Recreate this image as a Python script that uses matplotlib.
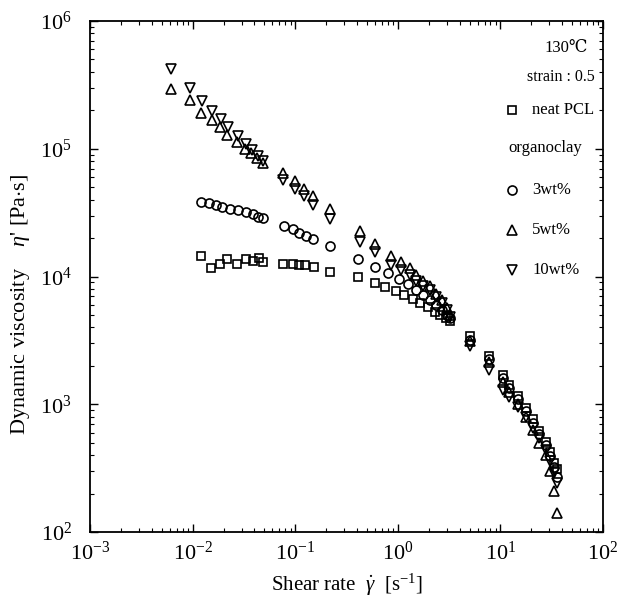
import matplotlib
matplotlib.use('Agg')
import matplotlib.pyplot as plt
from matplotlib.ticker import LogLocator, NullFormatter

plt.rcParams['font.family'] = ['Liberation Serif', 'DejaVu Serif']
plt.rcParams['mathtext.fontset'] = 'custom'
plt.rcParams['mathtext.rm'] = 'Liberation Serif'
plt.rcParams['mathtext.it'] = 'Liberation Serif:italic'
plt.rcParams['axes.unicode_minus'] = False

# ---- data ----
pcl_rate = [0.0122, 0.0150, 0.0183, 0.0218, 0.0268, 0.0330, 0.0385, 0.0445, 0.0485,
            0.0757, 0.0948, 0.110, 0.125, 0.152, 0.217,
            0.41, 0.60, 0.75, 0.95, 1.15, 1.4, 1.65, 1.95, 2.3, 2.6, 2.95, 3.22,
            5.1, 7.7, 10.5, 12.2, 14.7, 17.7, 20.6, 24.0, 27.8, 30.5, 33.0, 35.5]
pcl_eta = [14500, 11600, 12600, 13800, 12600, 13800, 13200, 14000, 12900,
           12600, 12600, 12400, 12300, 11900, 10900,
           9900, 8900, 8300, 7700, 7200, 6700, 6200, 5800, 5300, 5000, 4700, 4500,
           3400, 2400, 1700, 1420, 1160, 940, 760, 620, 510, 420, 350, 310]

clay3_rate = [0.0122, 0.0145, 0.0168, 0.0195, 0.0232, 0.0278, 0.0331, 0.0385, 0.0431, 0.0482,
              0.0774, 0.0948, 0.110, 0.128, 0.149, 0.217,
              0.41, 0.60, 0.81, 1.02, 1.25, 1.5, 1.76, 2.05, 2.38, 2.67, 2.99, 3.22,
              5.1, 7.7, 10.5, 12.2, 14.7, 17.7, 20.6, 24.0, 27.8, 30.5, 33.0, 35.5]
clay3_eta = [38200, 37300, 36200, 35200, 33900, 33000, 32000, 30700, 29400, 28600,
             24900, 23500, 22100, 20900, 19700, 17200,
             13600, 11900, 10600, 9600, 8700, 7900, 7200, 6600, 6000, 5500, 5000, 4700,
             3200, 2250, 1600, 1330, 1090, 880, 710, 580, 480, 390, 320, 270]

clay5_rate = [0.00622, 0.00942, 0.0122, 0.0153, 0.0185, 0.0216, 0.027, 0.0326, 0.037, 0.042, 0.048,
              0.0757, 0.0984, 0.123, 0.149, 0.217,
              0.43, 0.60, 0.85, 1.07, 1.30, 1.51, 1.76, 2.05, 2.38, 2.67, 2.99, 3.22,
              5.1, 7.7, 10.5, 12.2, 14.7, 17.7, 20.6, 24.0, 27.8, 30.5, 33.0, 35.5]
clay5_eta = [295000, 239000, 192000, 168000, 147000, 129000, 113000, 100000, 92000, 85000, 78000,
             65000, 55500, 48300, 43000, 33600,
             22800, 18000, 14600, 13000, 11600, 10300, 9200, 8400, 7300, 6500, 5700, 5000,
             3100, 2150, 1500, 1250, 1000, 800, 630, 500, 400, 300, 210, 140]

clay10_rate = [0.00622, 0.00942, 0.01245, 0.0156, 0.0188, 0.0219, 0.0274, 0.0331, 0.038, 0.043, 0.048,
               0.0757, 0.0984, 0.123, 0.149, 0.217,
               0.43, 0.60, 0.85, 1.07, 1.30, 1.51, 1.76, 2.05, 2.38, 2.67, 2.99, 3.22,
               5.1, 7.7, 10.5, 12.2, 14.7, 17.7, 20.6, 24.0, 27.8, 30.5, 33.0, 35.5]
clay10_eta = [422000, 299000, 236000, 198000, 171000, 147000, 127000, 109000, 97000, 88000, 80000,
              57100, 48300, 42400, 36600, 28100,
              18500, 15500, 12300, 11200, 10200, 9300, 8500, 7800, 6900, 6200, 5500, 4800,
              2850, 1850, 1300, 1150, 950, 800, 650, 540, 440, 360, 290, 240]

legend_labels = ['neat PCL', '3wt%', '5wt%', '10wt%']

fig = plt.figure(figsize=(6.2, 6.04), dpi=100)
ax = fig.add_axes([0.1452, 0.1192, 0.8274, 0.846])

mk = dict(linestyle='none', markerfacecolor='none', markeredgecolor='black', markeredgewidth=1.2)
ax.plot(pcl_rate, pcl_eta, marker='s', markersize=6, **mk)
ax.plot(clay3_rate, clay3_eta, marker='o', markersize=6.5, **mk)
ax.plot(clay5_rate, clay5_eta, marker='^', markersize=7, **mk)
ax.plot(clay10_rate, clay10_eta, marker='v', markersize=7, **mk)

ax.set_xscale('log')
ax.set_yscale('log')
ax.set_xlim(1e-3, 1e2)
ax.set_ylim(1e2, 1e6)
ax.xaxis.set_minor_locator(LogLocator(base=10, subs=range(2, 10), numticks=20))
ax.yaxis.set_minor_locator(LogLocator(base=10, subs=range(2, 10), numticks=20))
ax.xaxis.set_minor_formatter(NullFormatter())
ax.yaxis.set_minor_formatter(NullFormatter())
ax.tick_params(which='both', direction='in', top=True, right=True, labelsize=16, color='black')
ax.tick_params(which='major', length=6, width=1.0)
ax.tick_params(which='minor', length=3, width=0.8)
ax.tick_params(axis='x', pad=7)
ax.tick_params(axis='y', pad=13)
for s in ax.spines.values():
    s.set_linewidth(1.3)

ax.set_xlabel(r'Shear rate  $\dot{\mathit{\gamma}}$  [s$^{-1}$]', fontsize=15)
ax.set_ylabel(r"Dynamic viscosity    $\mathit{\eta}$' [Pa$\cdot$s]", fontsize=16)
ax.xaxis.set_label_coords(0.5, -0.077)
ax.yaxis.set_label_coords(-0.113, 0.445)

# in-plot legend block
T = ax.transAxes
fs = 12
ax.text(0.928, 0.947, '130\u2103', transform=T, ha='center', va='center', fontsize=fs)
ax.text(0.852, 0.890, 'strain : 0.5', transform=T, ha='left', va='center', fontsize=11.5)
ax.text(0.815, 0.751, 'organoclay', transform=T, ha='left', va='center', fontsize=fs)
leg_y = [0.826, 0.669, 0.591, 0.513]
leg_m = ['s', 'o', '^', 'v']
leg_ms = [6, 6.5, 7, 7]
for lab, yy, m, ms in zip(legend_labels, leg_y, leg_m, leg_ms):
    ax.plot([0.822], [yy], transform=T, marker=m, markersize=ms, clip_on=False, **mk)
    ax.text(0.862, yy, lab, transform=T, ha='left', va='center', fontsize=fs)

fig.savefig('out.png', dpi=100, facecolor='white')
